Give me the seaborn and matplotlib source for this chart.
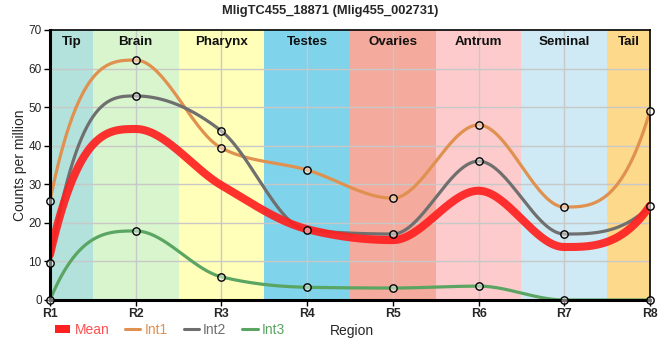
import numpy as np
import pandas as pd
import matplotlib
matplotlib.use("Agg")
import matplotlib.pyplot as plt
from matplotlib.lines import Line2D
from matplotlib.patches import Patch
import seaborn as sns

# ---- data ----
regions = ["R1", "R2", "R3", "R4", "R5", "R6", "R7", "R8"]
tissues = ["Tip", "Brain", "Pharynx", "Testes", "Ovaries", "Antrum", "Seminal", "Tail"]
tissue_colors = ["#b3e2dd", "#d8f5ce", "#ffffb9", "#7fd3eb", "#f4aa9c", "#fdcbcc", "#cfeaf4", "#fdd98b"]
int1 = [25.7, 62.2, 39.4, 33.7, 26.4, 45.4, 24.1, 49.0]
int2 = [9.6, 52.9, 43.8, 18.1, 17.1, 36.0, 17.1, 24.4]
int3 = [0.0, 17.9, 6.0, 3.3, 3.1, 3.6, 0.0, 0.0]
mean = [float(np.mean(v)) for v in zip(int1, int2, int3)]
series_names = ["Mean", "Int1", "Int2", "Int3"]
series_colors = {"Mean": "#ff2020", "Int1": "#e0914f", "Int2": "#6f6f6f", "Int3": "#5aa562"}
series_widths = {"Mean": 5.8, "Int1": 2.3, "Int2": 2.3, "Int3": 2.3}


def monotone(y, n=60):
    """Monotone cubic smoothing between data points (flat at extrema)."""
    y = np.asarray(y, float)
    x = np.arange(len(y), dtype=float)
    m = len(y)
    s = np.diff(y)
    t = np.zeros(m)
    for i in range(1, m - 1):
        s0, s1 = s[i - 1], s[i]
        p = (s0 + s1) / 2
        t[i] = (np.sign(s0) + np.sign(s1)) * min(abs(s0), abs(s1), 0.5 * abs(p))
    t[0] = 3 * s[0] - t[1]
    t[-1] = 3 * s[-1] - t[-2]
    xs, ys = [], []
    for i in range(m - 1):
        u = np.linspace(0, 1, n, endpoint=(i == m - 2))
        h00 = 2 * u**3 - 3 * u**2 + 1
        h10 = u**3 - 2 * u**2 + u
        h01 = -2 * u**3 + 3 * u**2
        h11 = u**3 - u**2
        xs.append(x[i] + u)
        ys.append(h00 * y[i] + h10 * t[i] + h01 * y[i + 1] + h11 * t[i + 1])
    return np.concatenate(xs), np.concatenate(ys)


sns.set_theme(style="white")
plt.rcParams["font.family"] = ["Liberation Sans", "DejaVu Sans"]

fig = plt.figure(figsize=(6.6, 3.6), dpi=100)
ax = fig.add_axes([50 / 660, 60 / 360, 600 / 660, 270 / 360])

# background bands
for i, (name, col) in enumerate(zip(tissues, tissue_colors)):
    lo = max(i - 0.5, 0)
    hi = min(i + 0.5, len(regions) - 1)
    ax.axvspan(lo, hi, color=col, lw=0, zorder=0)
    ax.text((lo + hi) / 2, 66.9, name, ha="center", va="center",
            fontsize=9.6, fontweight="bold", color="#111111", zorder=1)

# grid
for i in range(len(regions)):
    ax.axvline(i, color="#c8c8c8", lw=1, zorder=0.5)
for yv in range(10, 70, 10):
    ax.axhline(yv, color="#c8c8c8", lw=1, zorder=0.5)

data = {"Mean": mean, "Int1": int1, "Int2": int2, "Int3": int3}
frames = []
for nm in series_names:
    xs, ys = monotone(data[nm])
    frames.append(pd.DataFrame({"x": xs, "y": ys, "series": nm}))
curves = pd.concat(frames)

for nm in ["Int1", "Int2", "Int3", "Mean"]:
    sub = curves[curves.series == nm]
    sns.lineplot(data=sub, x="x", y="y", color=series_colors[nm],
                 lw=series_widths[nm], alpha=0.92 if nm == "Mean" else 1.0,
                 ax=ax, zorder=3 if nm == "Mean" else 2, legend=False,
                 sort=False, estimator=None)

pts = pd.concat([pd.DataFrame({"x": np.arange(len(regions)), "y": data[nm]})
                 for nm in ["Int1", "Int2", "Int3"]])
ax.scatter(pts.x, pts.y, s=28, facecolors=(1, 1, 1, 0.45),
           edgecolors="black", linewidths=1.0, zorder=7, clip_on=False)

ax.set_xlim(0, len(regions) - 1)
ax.set_ylim(0, 70)
ax.set_xticks(range(len(regions)))
ax.set_xticklabels(regions, fontsize=8.8, fontweight="bold")
ax.set_yticks(range(0, 80, 10))
ax.set_yticklabels([str(v) for v in range(0, 80, 10)], fontsize=8.5)
ax.tick_params(axis="both", length=4, width=1, color="black", pad=2,
               bottom=True, left=True)
ax.set_xlabel("")
ax.set_ylabel("Counts per million", fontsize=10)
ax.yaxis.set_label_coords(-(50 - 27) / 600, 0.5)

for side in ["top", "right"]:
    ax.spines[side].set_visible(True)
    ax.spines[side].set_color("black")
    ax.spines[side].set_linewidth(1.2)
for side in ["left", "bottom"]:
    ax.spines[side].set_color("black")
    ax.spines[side].set_linewidth(2.2)
    ax.spines[side].set_zorder(6)

fig.suptitle("MligTC455_18871 (Mlig455_002731)", x=0.5, y=0.985,
             fontsize=9.3, fontweight="bold", va="top")

handles = [Patch(facecolor=series_colors["Mean"], edgecolor="none")] + \
          [Line2D([0], [0], color=series_colors[nm], lw=2.2) for nm in series_names[1:]]
leg = fig.legend(handles, series_names, loc="center left",
                 bbox_to_anchor=(55 / 660, 1 - 330 / 360), ncol=4, frameon=False,
                 handlelength=1.1, handleheight=0.55, handletextpad=0.3,
                 columnspacing=1.15, borderpad=0, borderaxespad=0,
                 prop={"size": 10})
for txt, nm in zip(leg.get_texts(), series_names):
    txt.set_color("#ff4f4f" if nm == "Mean" else series_colors[nm])
fig.text(330 / 660, 1 - 331 / 360, "Region", fontsize=10, ha="left", va="center")

fig.savefig("out.png", dpi=100)
